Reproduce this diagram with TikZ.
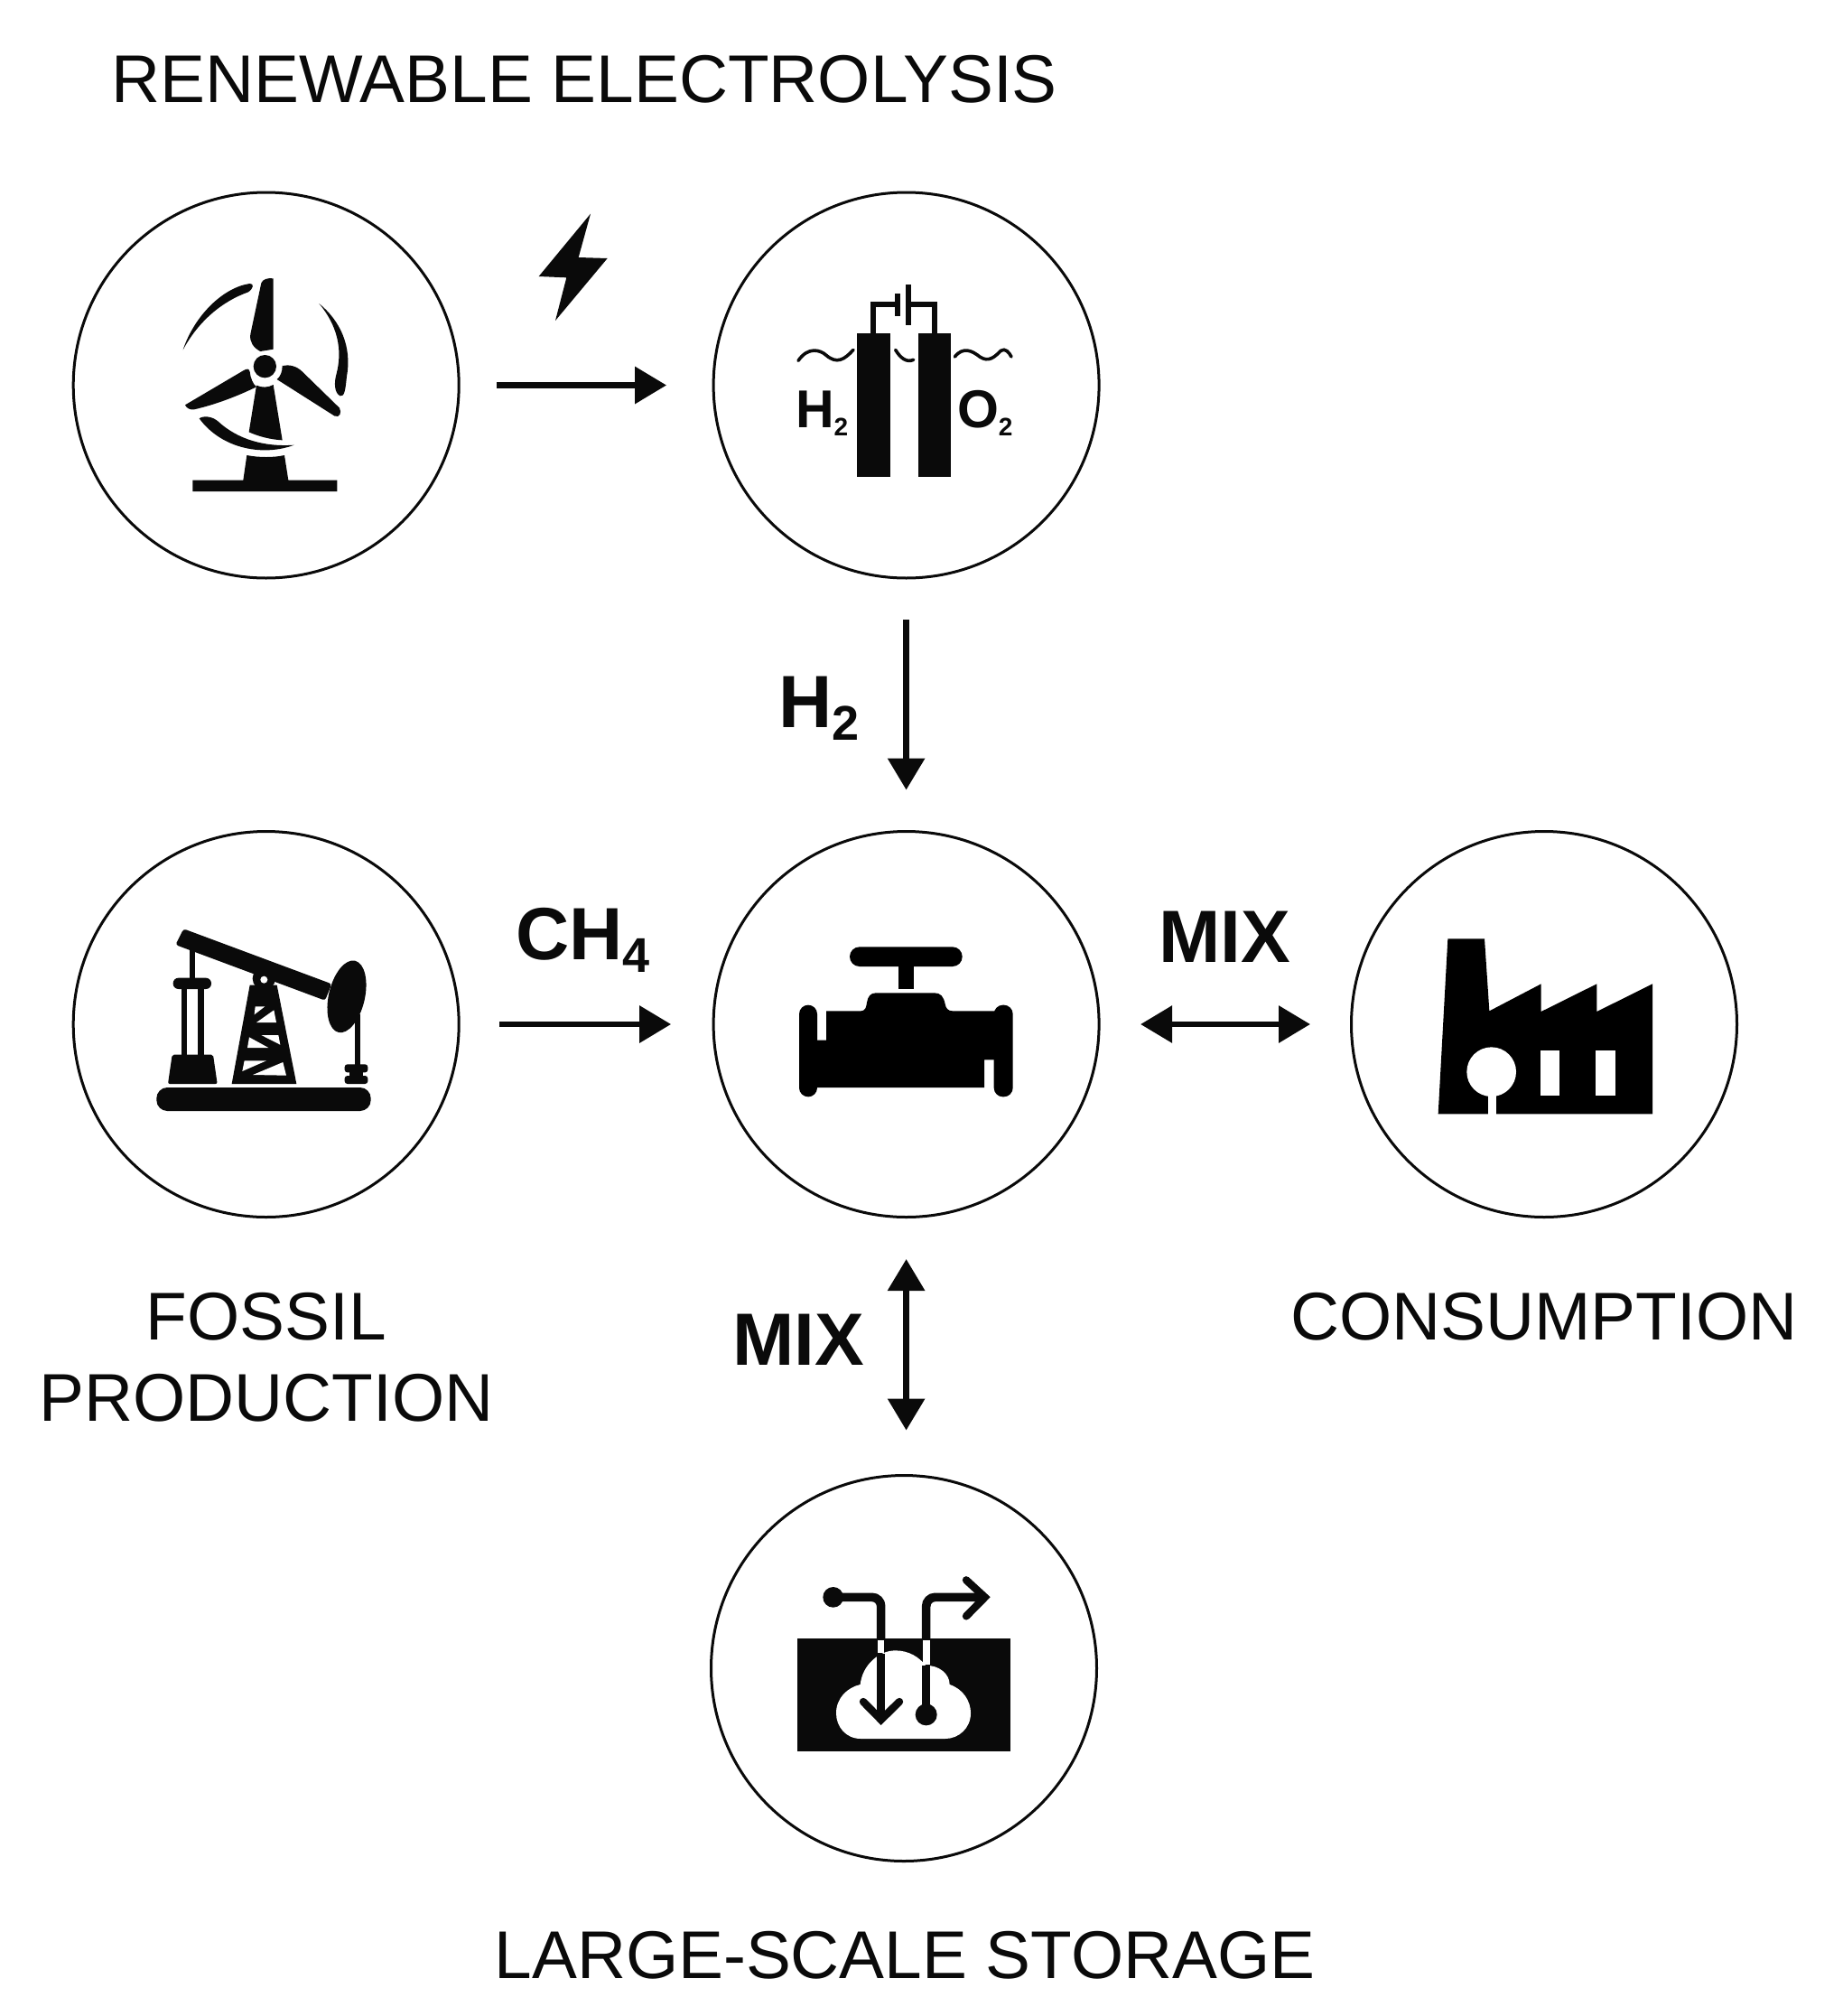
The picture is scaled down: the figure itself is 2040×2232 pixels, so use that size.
\documentclass[tikz,border=0pt]{standalone}
\usepackage{fontspec}
\setmainfont{Liberation Sans}
\usetikzlibrary{arrows.meta}
\definecolor{ink}{HTML}{0A0A0A}
\newcommand{\lowsub}[3]{\raisebox{-#2}{\fontsize{#1}{#1}\selectfont #3}}
\tikzset{
  x=0.5pt,y=-0.5pt,
  hub/.style={circle,draw=ink,line width=1.5pt,minimum size=213.5pt,inner sep=0pt,outer sep=0pt},
  title/.style={inner sep=0pt,outer sep=0pt,text=ink,font=\fontsize{37.4}{45}\selectfont,align=center,anchor=base},
  flow/.style={inner sep=0pt,outer sep=0pt,text=ink,font=\fontsize{41}{41}\selectfont\bfseries,anchor=base west},
  iconlabel/.style={inner sep=0pt,outer sep=0pt,text=ink,font=\fontsize{29.5}{30}\selectfont\bfseries,anchor=base west},
  link/.style={draw=ink,line width=3.2pt},
  one/.style={link,-{Triangle[length=17.5pt,width=20pt]}},
  both/.style={link,{Triangle[length=17.5pt,width=20pt]}-{Triangle[length=17.5pt,width=20pt]}},
  icon/.style 2 args={shift={(#1,#2)},x=0.166667pt,y=-0.166667pt},
  solid ink/.style={fill=ink,draw=none},
  gap/.style={fill=white,draw=none},
}
\begin{document}
\begin{tikzpicture}
\useasboundingbox[fill=white] (0,0) rectangle (2040,2232);

% circles
\node[hub] (wind) at (294.7,426.5) {};
\node[hub] (cell) at (1003.6,426.5) {};
\node[hub] (well) at (294.7,1134) {};
\node[hub] (valve) at (1003.6,1134) {};
\node[hub] (plant) at (1710,1134) {};
\node[hub] (store) at (1001,1847) {};

% connectors
\draw[one,shorten <=21pt,shorten >=26pt] (wind) -- (cell);
\draw[one,shorten <=23pt,shorten >=23pt] (cell.south) -- (valve.north);
\draw[one,shorten <=22.5pt,shorten >=23.5pt] (well.east) -- (valve.west);
\draw[both,shorten <=23pt,shorten >=22.75pt] (valve.east) -- (plant.west);
\draw[both,shorten <=23.25pt,shorten >=25pt] (valve.south) -- (valve.south |- store.north);

% texts
\node[title] (t1) at (647,114) {RENEWABLE ELECTROLYSIS};
\node[title] (t2) at (295,1573) {FOSSIL\\PRODUCTION};
\node[title] (t3) at (1710,1483) {CONSUMPTION};
\node[title] (t4) at (1002,2190) {LARGE-SCALE STORAGE};
\node[flow] (l1) at (862,805) {H\lowsub{27pt}{7pt}{2}};
\node[flow] (l2) at (571,1062) {CH\lowsub{27pt}{7pt}{4}};
\node[flow] (l3) at (1283,1065) {MIX};
\node[flow] (l4) at (811,1511) {MIX};

% lightning
\begin{scope}[icon={530}{220}]
\fill[solid ink] (372,50) -- (200,258) -- (292,262) -- (255,405) -- (428,198) -- (332,195) -- cycle;
\end{scope}

% wind turbine
\begin{scope}[icon={160}{270}]
\fill[solid ink] (428,115) -- (428,350) -- (385,357) .. controls (362,345) and (348,325) .. (352,300) -- (388,130) .. controls (392,118) and (410,112) .. (428,115) -- cycle;
\fill[solid ink] (400,407) circle [x radius=38,y radius=38];
\fill[solid ink] (135,535) -- (330,420) .. controls (342,413) and (348,415) .. (350,425) .. controls (352,445) and (360,465) .. (372,475) .. controls (300,510) and (230,535) .. (165,550) .. controls (150,552) and (140,545) .. (135,535) -- cycle;
\fill[solid ink] (440,450) .. controls (452,440) and (458,425) .. (458,405) .. controls (480,400) and (505,405) .. (525,425) -- (648,545) .. controls (655,560) and (650,578) .. (632,572) -- cycle;
\fill[solid ink] (372,470) .. controls (390,478) and (410,478) .. (428,468) -- (458,652) .. controls (420,650) and (380,640) .. (347,625) -- cycle;
\fill[solid ink] (340,702) .. controls (380,710) and (430,710) .. (465,702) -- (478,785) -- (640,785) -- (640,822) -- (160,822) -- (160,785) -- (328,785) -- cycle;
\fill[solid ink] (128,352) .. controls (165,240) and (260,145) .. (350,132) .. controls (365,132) and (362,148) .. (345,160) .. controls (260,190) and (180,255) .. (128,352) -- cycle;
\fill[solid ink] (580,198) .. controls (650,255) and (690,340) .. (672,440) .. controls (668,480) and (665,510) .. (650,505) .. controls (630,495) and (630,460) .. (637,435) .. controls (660,350) and (640,270) .. (580,198) -- cycle;
\fill[solid ink] (182,580) .. controls (195,570) and (225,572) .. (245,590) .. controls (310,650) and (400,675) .. (497,668) .. controls (400,705) and (260,685) .. (182,580) -- cycle;
\end{scope}

% electrolysis cell
\begin{scope}[icon={860}{300}]
\fill[solid ink] (268,208) rectangle (378,685);
\fill[solid ink] (470,208) rectangle (578,685);
\draw[draw=ink,line width=3pt] (322,210) -- (322,112) -- (402,112);
\draw[draw=ink,line width=3pt] (438,112) -- (525,112) -- (525,210);
\draw[draw=ink,line width=3.4pt] (402,75) -- (402,150);
\draw[draw=ink,line width=3.4pt] (438,45) -- (438,180);
\draw[draw=ink,line width=1.8pt,line cap=round] (72,298) .. controls (105,250) and (145,262) .. (165,280) .. controls (200,310) and (225,295) .. (255,262);
\draw[draw=ink,line width=1.8pt,line cap=round] (395,262) .. controls (412,290) and (432,305) .. (455,295);
\draw[draw=ink,line width=1.8pt,line cap=round] (592,285) .. controls (620,250) and (650,265) .. (675,285) .. controls (705,305) and (725,285) .. (745,265) .. controls (760,255) and (772,270) .. (780,285);
\end{scope}
\node[iconlabel] (h2i) at (881,473) {H\lowsub{14pt}{4.5pt}{2}};
\node[iconlabel] (o2i) at (1060,473) {O\lowsub{14pt}{4.5pt}{2}};

% pump jack
\begin{scope}[icon={160}{1010}]
\fill[solid ink,rounded corners=1.5pt] (130,55) -- (622,238) -- (600,293) -- (103,108) -- cycle;
\fill[solid ink] (150,115) rectangle (168,222);
\fill[solid ink,rounded corners=3pt] (95,218) rectangle (222,255);
\fill[solid ink] (123,250) rectangle (141,478);
\fill[solid ink] (178,250) rectangle (198,478);
\fill[solid ink,rounded corners=1pt] (92,473) -- (228,473) -- (242,570) -- (78,570) -- cycle;
\fill[solid ink] (397,220) circle [x radius=38,y radius=38];
\fill[gap] (397,224) circle [x radius=12,y radius=12];
\fill[solid ink] (350,242) -- (440,242) -- (505,570) -- (290,570) -- cycle;
\fill[gap] (368,313) -- (400,313) -- (365,340) -- cycle;
\fill[gap] (430,325) -- (438,366) -- (372,366) -- cycle;
\fill[gap] (348,415) -- (342,450) -- (412,450) -- cycle;
\fill[gap] (388,408) -- (445,408) -- (451,440) -- cycle;
\fill[gap] (332,493) -- (405,493) -- (325,528) -- cycle;
\fill[gap] (360,540) -- (460,498) -- (471,542) -- cycle;
\fill[solid ink,rotate around={-13:(672,280)}] (672,280) circle [x radius=60,y radius=122];
\fill[solid ink] (700,340) rectangle (718,510);
\fill[solid ink,rounded corners=1.5pt] (665,505) rectangle (742,532);
\fill[solid ink] (682,528) rectangle (725,548);
\fill[solid ink,rounded corners=1.5pt] (665,543) rectangle (742,570);
\fill[solid ink,rounded corners=6pt] (40,582) rectangle (752,660);
\end{scope}

% valve
\begin{scope}[icon={860}{1030}]
\fill[black,rounded corners=5.4pt] (243,55) rectangle (617,120);
\fill[black] (405,115) rectangle (455,195);
\fill[black,rounded corners=5pt] (75,248) rectangle (135,553);
\fill[black,rounded corners=5pt] (722,248) rectangle (785,553);
\fill[black] (125,365) -- (165,365) -- (165,268) -- (280,268) .. controls (295,268) and (298,255) .. (300,240) .. controls (303,220) and (312,208) .. (330,208) -- (525,208) .. controls (545,208) and (555,220) .. (560,245) .. controls (563,260) and (570,268) .. (585,268) -- (735,268) -- (735,430) -- (690,430) -- (690,522) -- (125,522) -- cycle;
\end{scope}

% factory
\begin{scope}[icon={1570}{1020}]
\fill[black] (100,58) -- (222,58) -- (238,298) -- (410,208) -- (410,300) -- (595,208) -- (595,300) -- (780,208) -- (780,640) -- (68,640) -- cycle;
\fill[gap] (245,500) circle [x radius=82,y radius=82];
\fill[gap] (233,560) rectangle (262,642);
\fill[gap] (408,430) rectangle (470,578);
\fill[gap] (592,430) rectangle (657,578);
\end{scope}

% storage
\begin{scope}[icon={860}{1740}]
\fill[solid ink] (68,222) rectangle (778,598);
\fill[gap] (280,555) .. controls (230,555) and (198,515) .. (198,470) .. controls (198,420) and (235,385) .. (278,375) .. controls (285,310) and (340,262) .. (395,262) .. controls (440,262) and (475,285) .. (495,312) .. controls (540,310) and (575,340) .. (575,375) .. controls (620,390) and (645,430) .. (645,470) .. controls (645,520) and (605,555) .. (560,555) -- cycle;
\draw[draw=ink,line width=4.8pt,rounded corners=5pt] (188,85) -- (347,85) -- (347,225);
\draw[draw=ink,line width=4.8pt] (347,272) -- (347,490);
\draw[draw=ink,line width=4.8pt,rounded corners=5pt] (497,225) -- (497,85) -- (690,85);
\draw[draw=ink,line width=4.8pt] (497,312) -- (497,475);
\fill[gap] (336,228) rectangle (358,270);
\fill[gap] (485,228) rectangle (509,310);
\fill[solid ink] (188,85) circle [x radius=34,y radius=34];
\fill[solid ink] (497,475) circle [x radius=36,y radius=36];
\draw[draw=ink,line width=4.2pt,line cap=round,line join=miter] (288,432) -- (347,492) -- (408,432);
\draw[draw=ink,line width=4.2pt,line cap=round,line join=miter] (630,28) -- (692,85) -- (630,148);
\end{scope}
\end{tikzpicture}
\end{document}
